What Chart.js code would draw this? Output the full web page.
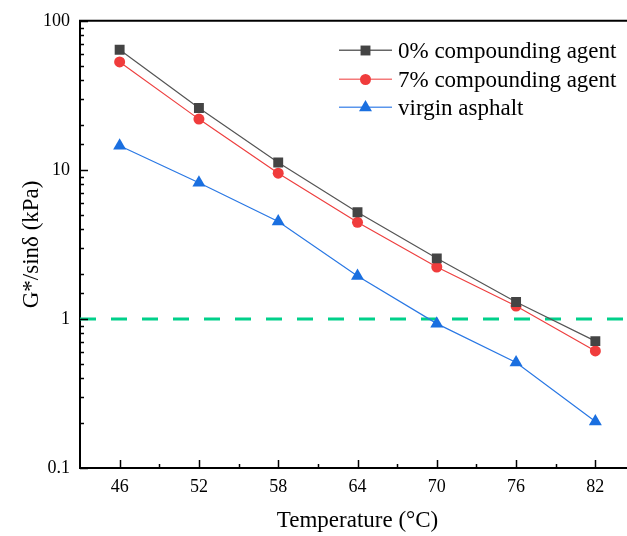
<!DOCTYPE html>
<html>
<head>
<meta charset="utf-8">
<script src="https://cdn.jsdelivr.net/npm/chart.js@4/dist/chart.umd.min.js"></script>
<style>
	html, body { margin: 0; padding: 0; background: #fff; overflow: hidden; }
	#wrap { width: 645px; height: 536px; }
</style>
</head>
<body>
<div id="wrap"><canvas id="chart" width="645" height="536"></canvas></div>
<script>
	'use strict';

	// data
	var temperatures = [46, 52, 58, 64, 70, 76, 82];
	var agent0 = [64, 26, 11.2, 5.2, 2.55, 1.3, 0.71];
	var agent7 = [53, 21.9, 9.5, 4.45, 2.23, 1.22, 0.61];
	var virgin = [14.5, 8.2, 4.5, 1.94, 0.93, 0.51, 0.205];
	var threshold = 1;

	var xTickLabels = ['46', '52', '58', '64', '70', '76', '82'];
	var xMinorTicks = [49, 55, 61, 67, 73, 79];
	var yTickLabels = ['0.1', '1', '10', '100'];
	var seriesNames = ['0% compounding agent', '7% compounding agent', 'virgin asphalt'];

	var lineColors = ['#555555', '#ee4040', '#2a78e4'];
	var legendLineColors = ['#666666', '#f47a7a', '#5a96ec'];
	var markerColors = ['#444444', '#f03c3c', '#1a6fe0'];
	var markerStyles = ['rect', 'circle', 'triangle'];
	var markerSizes = [7, 5.5, 7.5];

	var serif = "'Liberation Serif', 'Times New Roman', serif";

	function toPoints(values) {
		return values.map(function (v, i) {
			return {x: temperatures[i], y: v};
		});
	}

	function seriesDataset(i, values) {
		return {
			label: seriesNames[i],
			data: toPoints(values),
			borderColor: lineColors[i],
			borderWidth: 1.2,
			pointStyle: markerStyles[i],
			pointRadius: markerSizes[i],
			pointBackgroundColor: markerColors[i],
			pointBorderWidth: 0
		};
	}

	// minor / major ticks, pointing into the plot, plus the top frame line
	var innerTicks = {
		id: 'innerTicks',
		afterDraw: function (chart) {
			var ctx = chart.ctx,
				area = chart.chartArea,
				x = chart.scales.x,
				y = chart.scales.y;

			ctx.save();
			ctx.strokeStyle = '#000';
			ctx.lineWidth = 1.5;

			y.ticks.forEach(function (t) {
				var py = Math.round(y.getPixelForValue(t.value)) + 0.5,
					major = yTickLabels.indexOf(String(t.value)) !== -1,
					len = major ? 8 : 4;
				ctx.beginPath();
				ctx.moveTo(area.left, py);
				ctx.lineTo(area.left + len, py);
				ctx.stroke();
			});

			x.ticks.forEach(function (t) {
				var px = Math.round(x.getPixelForValue(t.value)) + 0.5,
					len = xMinorTicks.indexOf(t.value) !== -1 ? 4 : 8;
				ctx.beginPath();
				ctx.moveTo(px, area.bottom);
				ctx.lineTo(px, area.bottom - len);
				ctx.stroke();
			});

			ctx.lineWidth = 2;
			ctx.beginPath();
			ctx.moveTo(area.left - 1, area.top);
			ctx.lineTo(area.right, area.top);
			ctx.stroke();
			ctx.restore();
		}
	};

	// legend with line + marker samples
	var lineLegend = {
		id: 'lineLegend',
		afterDraw: function (chart) {
			var ctx = chart.ctx,
				rows = [50.5, 79.5, 107.5];

			seriesNames.forEach(function (name, i) {
				var yy = rows[i];

				ctx.save();
				ctx.fillStyle = legendLineColors[i];
				ctx.fillRect(339, Math.floor(yy) - 0.5, 53, 1.5);
				ctx.restore();

				ctx.save();
				ctx.fillStyle = markerColors[i];
				ctx.strokeStyle = markerColors[i];
				Chart.helpers.drawPoint(ctx, {
					pointStyle: markerStyles[i],
					radius: markerSizes[i],
					rotation: 0,
					borderWidth: 0
				}, 365.5, yy);
				ctx.restore();

				ctx.save();
				ctx.fillStyle = '#000';
				ctx.font = '23px ' + serif;
				ctx.textAlign = 'left';
				ctx.textBaseline = 'middle';
				ctx.fillText(name, 398, yy + 1);
				ctx.restore();
			});
		}
	};

	new Chart(document.getElementById('chart'), {
		type: 'line',
		data: {
			datasets: [
				seriesDataset(0, agent0),
				seriesDataset(1, agent7),
				seriesDataset(2, virgin),
				{
					label: 'threshold',
					data: [{x: 43, y: threshold}, {x: 85, y: threshold}],
					borderColor: '#00d08a',
					borderWidth: 3,
					borderDash: [16, 15],
					pointRadius: 0
				}
			]
		},
		options: {
			responsive: false,
			devicePixelRatio: 1,
			animation: false,
			layout: {padding: {top: 17, right: 10, left: 0, bottom: 0}},
			plugins: {
				legend: {display: false},
				tooltip: {enabled: false}
			},
			scales: {
				x: {
					type: 'linear',
					min: 43,
					max: 85,
					afterBuildTicks: function (scale) {
						var vals = xTickLabels.map(Number).concat(xMinorTicks).sort(function (a, b) { return a - b; });
						scale.ticks = vals.map(function (v) { return {value: v}; });
					},
					afterFit: function (scale) { scale.height = 68; },
					grid: {display: false, drawTicks: false},
					border: {display: true, color: '#000', width: 2},
					ticks: {
						autoSkip: false,
						maxRotation: 0,
						padding: 8,
						color: '#000',
						font: {family: serif, size: 18},
						callback: function (v) {
							return xTickLabels.indexOf(String(v)) !== -1 ? String(v) : '';
						}
					},
					title: {
						display: true,
						text: 'Temperature (°C)',
						color: '#000',
						font: {family: serif, size: 23},
						padding: {top: 0, bottom: 1}
					}
				},
				y: {
					type: 'logarithmic',
					min: 0.1,
					max: 100,
					afterFit: function (scale) { scale.width = 80; },
					grid: {display: false, drawTicks: false},
					border: {display: true, color: '#000', width: 2},
					ticks: {
						autoSkip: false,
						padding: 10,
						color: '#000',
						font: {family: serif, size: 18},
						callback: function (v) {
							var s = String(Number(v.toPrecision(3)));
							return yTickLabels.indexOf(s) !== -1 ? s : '';
						}
					},
					title: {
						display: true,
						text: 'G*/sinδ (kPa)',
						color: '#000',
						font: {family: serif, size: 23},
						padding: {top: 18, bottom: 0}
					}
				}
			}
		},
		plugins: [innerTicks, lineLegend]
	});
</script>
</body>
</html>
